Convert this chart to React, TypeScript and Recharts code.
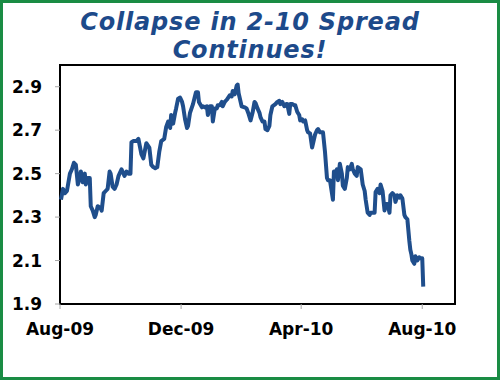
import React from 'react';
import { LineChart, Line, XAxis, YAxis, ReferenceArea } from 'recharts';

// days since 1 Aug 2009
const days = [
  1, 3, 5, 7, 10, 12, 14, 16, 18, 20, 21, 23, 25, 26, 28, 30, 31, 33, 35, 36, 38, 41, 42, 44, 46, 48, 50, 51,
  53, 55, 57, 59, 62, 65, 67, 69, 71, 72, 74, 77, 79, 82, 84, 87, 90, 92, 94, 96, 98, 100, 102, 105, 107, 109,
  111, 112, 114, 116, 117, 119, 121, 123, 124, 126, 128, 129, 131, 134, 137, 139, 140, 143, 144, 146, 148, 149,
  151, 153, 154, 156, 158, 159, 161, 163, 164, 166, 168, 171, 173, 174, 176, 178, 179, 180, 183, 186, 188, 190,
  192, 194, 196, 197, 199, 201, 202, 204, 206, 207, 209, 211, 212, 214, 217, 219, 221, 222, 224, 226, 228, 229,
  231, 232, 234, 236, 237, 239, 241, 242, 244, 245, 247, 249, 250, 252, 254, 255, 257, 259, 260, 262, 264, 265,
  267, 269, 270, 272, 274, 275, 276, 277, 279, 280, 282, 284, 285, 287, 289, 290, 292, 294, 295, 297, 299, 300,
  303, 305, 307, 308, 310, 312, 313, 315, 317, 318, 320, 322, 323, 325, 327, 328, 330, 332, 333, 335, 337, 338,
  340, 342, 343, 345, 347, 348, 350, 352, 353, 354, 355, 357, 358, 360, 362, 363, 365, 366,
];

// 2-10 spread, %
const spread = [
  2.38, 2.43, 2.41, 2.42, 2.5, 2.52, 2.55, 2.54, 2.45, 2.48, 2.51, 2.46, 2.5, 2.45, 2.48, 2.48, 2.35, 2.33, 2.3,
  2.31, 2.35, 2.34, 2.33, 2.41, 2.42, 2.43, 2.51, 2.5, 2.44, 2.43, 2.45, 2.49, 2.52, 2.49, 2.51, 2.5, 2.5,
  2.645, 2.65, 2.65, 2.66, 2.59, 2.57, 2.64, 2.62, 2.54, 2.53, 2.525, 2.53, 2.6, 2.65, 2.66, 2.715, 2.74, 2.71,
  2.77, 2.73, 2.78, 2.8, 2.845, 2.85, 2.83, 2.81, 2.75, 2.71, 2.72, 2.78, 2.82, 2.875, 2.875, 2.83, 2.805, 2.81,
  2.805, 2.81, 2.77, 2.81, 2.81, 2.74, 2.8, 2.8, 2.815, 2.815, 2.83, 2.81, 2.83, 2.84, 2.86, 2.855, 2.88, 2.865,
  2.905, 2.91, 2.87, 2.81, 2.805, 2.8, 2.775, 2.745, 2.78, 2.83, 2.825, 2.8, 2.78, 2.76, 2.74, 2.74, 2.705, 2.7,
  2.72, 2.77, 2.81, 2.82, 2.83, 2.835, 2.82, 2.83, 2.81, 2.82, 2.82, 2.775, 2.82, 2.82, 2.815, 2.815, 2.785,
  2.77, 2.745, 2.75, 2.74, 2.745, 2.7, 2.69, 2.685, 2.62, 2.64, 2.68, 2.7, 2.705, 2.69, 2.69, 2.69, 2.6, 2.48,
  2.47, 2.47, 2.41, 2.38, 2.51, 2.5, 2.52, 2.47, 2.545, 2.5, 2.445, 2.43, 2.48, 2.53, 2.52, 2.545, 2.52, 2.5,
  2.49, 2.53, 2.52, 2.45, 2.42, 2.38, 2.32, 2.31, 2.32, 2.32, 2.32, 2.415, 2.43, 2.41, 2.45, 2.42, 2.33, 2.36,
  2.36, 2.32, 2.4, 2.41, 2.4, 2.37, 2.4, 2.39, 2.4, 2.385, 2.31, 2.3, 2.29, 2.19, 2.15, 2.13, 2.1, 2.085, 2.12,
  2.1, 2.115, 2.11, 2.11, 1.98,
];

const tickDays = [0, 122, 243, 365];
const tickLabels = ['Aug-09', 'Dec-09', 'Apr-10', 'Aug-10'];
const yTicks = [1.9, 2.1, 2.3, 2.5, 2.7, 2.9];

const data = days.map((d, i) => ({ day: d, spread: spread[i] }));

const tickStyle = { fontSize: 17, fontWeight: 'bold', fill: '#000', fontFamily: 'DejaVu Sans' };

export default function App() {
  return (
    <div style={{ position: 'absolute', left: 0, top: 0, width: 500, height: 380, background: '#fff' }}>
      <div
        style={{
          position: 'absolute',
          top: 8,
          left: 0,
          width: 500,
          textAlign: 'center',
          fontFamily: 'DejaVu Sans',
          fontWeight: 'bold',
          fontStyle: 'italic',
          fontSize: 24,
          lineHeight: '28px',
          letterSpacing: 0.8,
          color: '#1d4a8a',
        }}
      >
        Collapse in 2-10 Spread
        <br />
        Continues!
      </div>
      <LineChart width={500} height={380} data={data} margin={{ top: 65, right: 45, bottom: 36, left: 10 }}>
        <XAxis
          type="number"
          dataKey="day"
          domain={[0, 398]}
          ticks={tickDays}
          tickFormatter={(v) => tickLabels[tickDays.indexOf(v)]}
          axisLine={false}
          tickLine={{ stroke: '#a6a6a6' }}
          tickSize={5}
          tickMargin={14}
          height={40}
          tick={tickStyle}
          interval={0}
        />
        <YAxis
          type="number"
          domain={[1.9, 3.0]}
          ticks={yTicks}
          tickFormatter={(v) => v.toFixed(1)}
          axisLine={false}
          tickLine={{ stroke: '#a6a6a6' }}
          tickSize={5}
          tickMargin={13}
          width={50}
          tick={tickStyle}
          interval={0}
        />
        <ReferenceArea x1={0} x2={398} y1={1.9} y2={3.0} fill="none" stroke="#000" strokeWidth={2} />
        <Line
          type="linear"
          dataKey="spread"
          stroke="#1f4e8c"
          strokeWidth={4}
          strokeLinejoin="round"
          dot={false}
          isAnimationActive={false}
        />
      </LineChart>
      <div
        style={{
          position: 'absolute',
          left: 0,
          top: 0,
          width: 500,
          height: 380,
          boxSizing: 'border-box',
          border: '3px solid #1a8c44',
          pointerEvents: 'none',
        }}
      />
    </div>
  );
}
